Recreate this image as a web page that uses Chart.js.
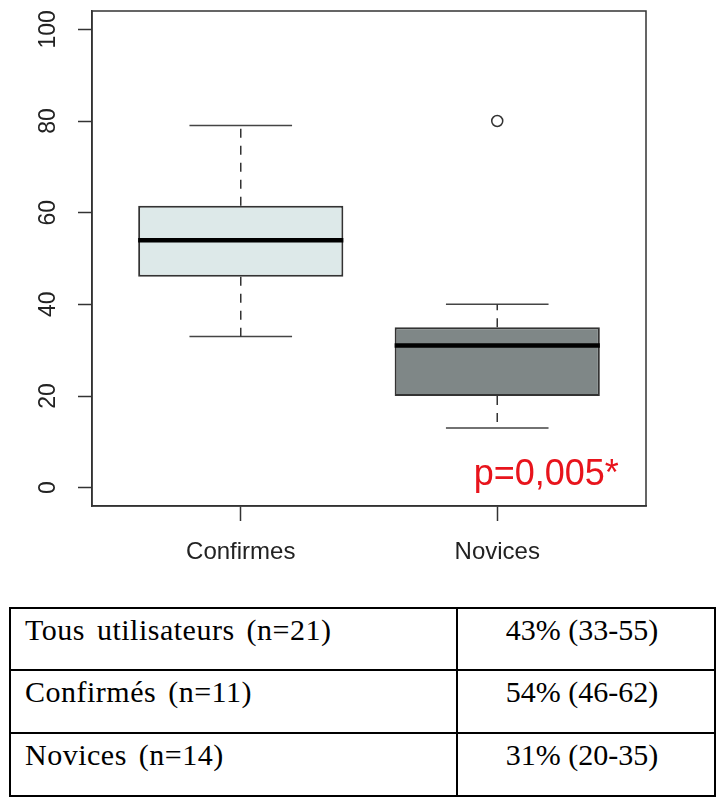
<!DOCTYPE html>
<html>
<head>
<meta charset="utf-8">
<script src="https://cdn.jsdelivr.net/npm/chart.js@4/dist/chart.umd.min.js"></script>
<style>
  html, body { margin: 0; padding: 0; background: #fff; }
  #wrap { position: relative; width: 717px; height: 590px; }
  table {
    position: absolute; left: 9px; top: 607px;
    border-collapse: collapse;
    font-family: "Liberation Serif", "Times New Roman", serif;
    font-size: 30px; color: #000;
  }
  td {
    border: 2px solid #000;
    height: 57px;
    vertical-align: top;
    padding: 4px 0 0 0;
    line-height: 34px;
    box-sizing: border-box;
  }
  td.lab { width: 447px; padding-left: 14px; letter-spacing: 0.5px; word-spacing: 4px; }
  td.val { width: 258px; text-align: center; padding-right: 8px; }
</style>
</head>
<body>
<div id="wrap"><canvas id="c" width="717" height="590"></canvas></div>
<table id="tbl"></table>
<script>
// ---- data ----
const categories = ['Confirmes', 'Novices'];
const whiskerLow = [33, 13];
const q1 = [46, 20];
const medians = [54, 31];
const q3 = [61.5, 35];
const whiskerHigh = [79, 40];
const outliers = [[], [80]];
const yTicks = [0, 20, 40, 60, 80, 100];
const boxColors = ['#dde9e9', '#7f8787'];
const pValueText = 'p=0,005*';
const tableLabels = ['Tous utilisateurs (n=21)', 'Confirmés (n=11)', 'Novices (n=14)'];
const tableValues = ['43% (33-55)', '54% (46-62)', '31% (20-35)'];

// ---- table ----
const tbl = document.getElementById('tbl');
tableLabels.forEach((l, i) => {
  const tr = document.createElement('tr');
  const a = document.createElement('td'); a.className = 'lab'; a.textContent = l;
  const b = document.createElement('td'); b.className = 'val'; b.textContent = tableValues[i];
  if (i === 0) { a.style.height = b.style.height = '62px'; }
  else { a.style.height = b.style.height = '63px'; }
  tr.appendChild(a); tr.appendChild(b); tbl.appendChild(tr);
});

// ---- chart ----
const BOX_HALF = 0.4, CAP_HALF = 0.2;
const pos = categories.map((c, i) => i + 1);

const medianData = [], whiskerData = [], capData = [], outlierData = [];
pos.forEach((x, i) => {
  medianData.push({x: x - BOX_HALF, y: medians[i]}, {x: x + BOX_HALF, y: medians[i]}, {x: x + 0.5, y: null});
  whiskerData.push({x: x, y: q3[i]}, {x: x, y: whiskerHigh[i]}, {x: x, y: null});
  whiskerData.push({x: x, y: q1[i]}, {x: x, y: whiskerLow[i]}, {x: x, y: null});
  capData.push({x: x - CAP_HALF, y: whiskerHigh[i]}, {x: x + CAP_HALF, y: whiskerHigh[i]}, {x: x, y: null});
  capData.push({x: x - CAP_HALF, y: whiskerLow[i]}, {x: x + CAP_HALF, y: whiskerLow[i]}, {x: x, y: null});
  outliers[i].forEach(v => outlierData.push({x: x, y: v}));
});

const frameAndLabels = {
  id: 'frameAndLabels',
  afterDraw(chart) {
    const ctx = chart.ctx, a = chart.chartArea;
    ctx.save();
    ctx.strokeStyle = '#333';
    ctx.lineWidth = 1.5;
    ctx.strokeRect(a.left, a.top, a.right - a.left, a.bottom - a.top);
    // rotated y tick labels
    const ys = chart.scales.y;
    ctx.fillStyle = '#222';
    ctx.font = '23px "Liberation Sans", Arial, sans-serif';
    ctx.textAlign = 'center';
    ctx.textBaseline = 'alphabetic';
    ys.ticks.forEach(t => {
      const py = ys.getPixelForValue(t.value);
      ctx.save();
      ctx.translate(a.left - 37, py);
      ctx.rotate(-Math.PI / 2);
      ctx.fillText(String(t.value), 0, 0);
      ctx.restore();
    });
    // p-value annotation
    const xs = chart.scales.x;
    ctx.fillStyle = '#e8141c';
    ctx.font = '36px "Liberation Sans", Arial, sans-serif';
    ctx.textAlign = 'right';
    ctx.fillText(pValueText, xs.getPixelForValue(2.474), ys.getPixelForValue(0.6));
    ctx.restore();
  }
};

new Chart(document.getElementById('c'), {
  type: 'bar',
  data: {
    datasets: [
      {
        type: 'bar',
        data: pos.map((x, i) => ({x: x, y: [q1[i], q3[i]]})),
        backgroundColor: boxColors,
        borderColor: '#333',
        borderWidth: 2,
        borderSkipped: false,
        categoryPercentage: 1,
        barPercentage: 0.8,
        order: 2
      },
      {
        type: 'line',
        data: whiskerData,
        borderColor: '#333',
        borderWidth: 1.5,
        borderDash: [9, 8],
        pointRadius: 0,
        spanGaps: false,
        fill: false,
        order: 3
      },
      {
        type: 'line',
        data: capData,
        borderColor: '#444',
        borderWidth: 1.5,
        pointRadius: 0,
        spanGaps: false,
        fill: false,
        order: 3
      },
      {
        type: 'line',
        data: medianData,
        borderColor: '#000',
        borderWidth: 4.5,
        borderCapStyle: 'butt',
        pointRadius: 0,
        spanGaps: false,
        fill: false,
        order: 0
      },
      {
        type: 'scatter',
        data: outlierData,
        pointRadius: 5.5,
        pointBorderWidth: 1.5,
        borderColor: '#333',
        backgroundColor: 'rgba(0,0,0,0)',
        order: 1
      }
    ]
  },
  options: {
    responsive: false,
    animation: false,
    layout: { padding: { left: 0, top: 11, right: 71, bottom: 0 } },
    plugins: { legend: { display: false }, tooltip: { enabled: false } },
    scales: {
      x: {
        type: 'linear',
        min: 0.42, max: 2.58,
        offset: false,
        afterBuildTicks: s => { s.ticks = pos.map(v => ({value: v})); },
        afterFit: s => { s.height = 84; },
        grid: { offset: false, drawOnChartArea: false, drawTicks: true, tickLength: 15, tickColor: '#333', tickWidth: 1.5 },
        border: { display: true, color: '#333', width: 1.5 },
        ticks: {
          padding: 17,
          color: '#222',
          font: { family: '"Liberation Sans", Arial, sans-serif', size: 24 },
          callback: v => categories[Math.round(v) - 1] || ''
        }
      },
      y: {
        type: 'linear',
        min: -4, max: 104,
        afterBuildTicks: s => { s.ticks = yTicks.map(v => ({value: v})); },
        afterFit: s => { s.width = 92; },
        grid: { drawOnChartArea: false, drawTicks: true, tickLength: 14, tickColor: '#333', tickWidth: 1.5 },
        border: { display: true, color: '#333', width: 1.5 },
        ticks: { display: false }
      }
    }
  },
  plugins: [frameAndLabels]
});
</script>
</body>
</html>
